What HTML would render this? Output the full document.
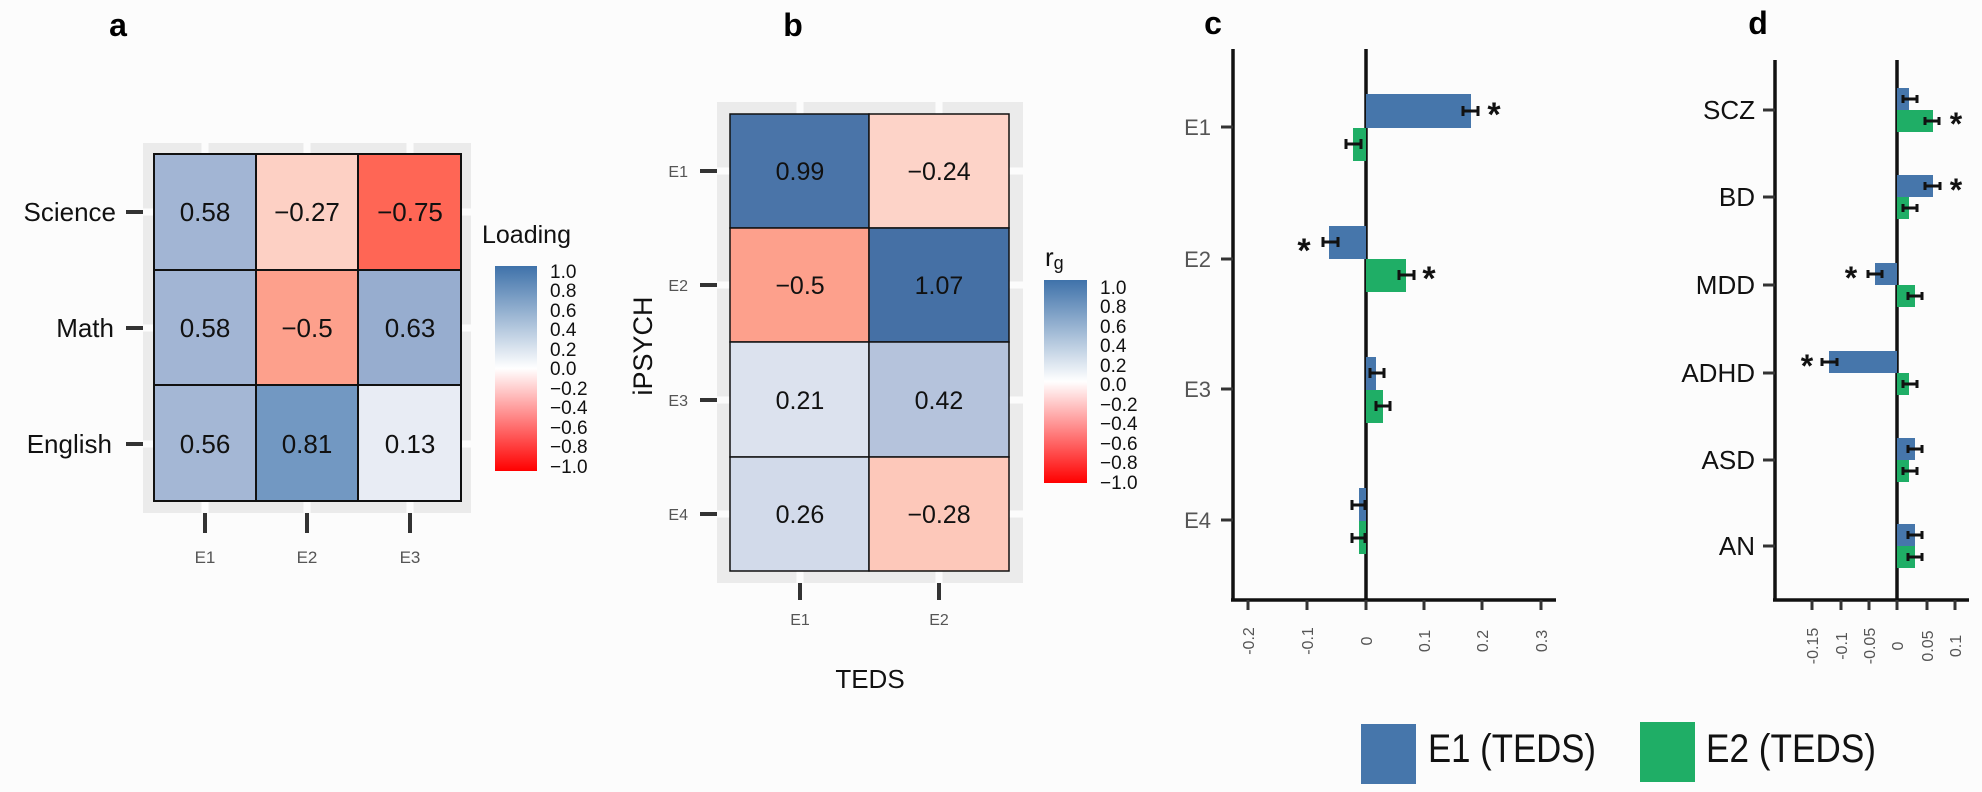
<!DOCTYPE html>
<html><head><meta charset="utf-8"><style>
html,body{margin:0;padding:0;background:#fcfcfc;}
svg{display:block;font-family:"Liberation Sans",Arial,sans-serif;}
</style></head><body>
<svg width="1982" height="792" viewBox="0 0 1982 792" xmlns="http://www.w3.org/2000/svg">
<defs>
<linearGradient id="cb" x1="0" y1="0" x2="0" y2="1">
<stop offset="0" stop-color="#3f72aa"/><stop offset="0.5" stop-color="#ffffff"/><stop offset="1" stop-color="#ff0000"/>
</linearGradient>
</defs>
<rect width="1982" height="792" fill="#fcfcfc"/>

<!-- Panel a -->
<text x="118" y="36" font-size="32" font-weight="bold" text-anchor="middle">a</text>
<rect x="143" y="143" width="328" height="370" fill="#ebebeb"/>
<g stroke="#fcfcfc" stroke-width="7">
<line x1="205" y1="143" x2="205" y2="513"/><line x1="307" y1="143" x2="307" y2="513"/><line x1="410" y1="143" x2="410" y2="513"/>
<line x1="143" y1="212" x2="471" y2="212"/><line x1="143" y1="328" x2="471" y2="328"/><line x1="143" y1="444" x2="471" y2="444"/>
</g>
<g stroke="#111" stroke-width="2">
<rect x="154" y="154" width="102" height="116" fill="#a2b5d4"/>
<rect x="256" y="154" width="102" height="116" fill="#fdd0c4"/>
<rect x="358" y="154" width="103" height="116" fill="#ff6655"/>
<rect x="154" y="270" width="102" height="115" fill="#a2b5d4"/>
<rect x="256" y="270" width="102" height="115" fill="#fda08c"/>
<rect x="358" y="270" width="103" height="115" fill="#97adcf"/>
<rect x="154" y="385" width="102" height="116" fill="#a4b7d5"/>
<rect x="256" y="385" width="102" height="116" fill="#7298c2"/>
<rect x="358" y="385" width="103" height="116" fill="#e8ecf4"/>
</g>
<g font-size="26" text-anchor="middle" fill="#111">
<text x="205" y="221">0.58</text><text x="307" y="221">−0.27</text><text x="410" y="221">−0.75</text>
<text x="205" y="337">0.58</text><text x="307" y="337">−0.5</text><text x="410" y="337">0.63</text>
<text x="205" y="453">0.56</text><text x="307" y="453">0.81</text><text x="410" y="453">0.13</text>
</g>
<g font-size="26" text-anchor="end" fill="#111">
<text x="116" y="221">Science</text><text x="114" y="337">Math</text><text x="112" y="453">English</text>
</g>
<g stroke="#333" stroke-width="4">
<line x1="126" y1="212" x2="143" y2="212"/><line x1="126" y1="328" x2="143" y2="328"/><line x1="126" y1="444" x2="143" y2="444"/>
<line x1="205" y1="513" x2="205" y2="533"/><line x1="307" y1="513" x2="307" y2="533"/><line x1="410" y1="513" x2="410" y2="533"/>
</g>
<g font-size="17" text-anchor="middle" fill="#555">
<text x="205" y="563">E1</text><text x="307" y="563">E2</text><text x="410" y="563">E3</text>
</g>
<text x="482" y="243" font-size="25" fill="#111">Loading</text>
<rect x="495" y="266" width="42" height="205" fill="url(#cb)"/>
<g font-size="19" fill="#111">
<text x="550" y="278">1.0</text><text x="550" y="297">0.8</text><text x="550" y="317">0.6</text><text x="550" y="336">0.4</text><text x="550" y="356">0.2</text><text x="550" y="375">0.0</text><text x="550" y="395">−0.2</text><text x="550" y="414">−0.4</text><text x="550" y="434">−0.6</text><text x="550" y="453">−0.8</text><text x="550" y="473">−1.0</text>
</g>

<!-- Panel b -->
<text x="793" y="36" font-size="32" font-weight="bold" text-anchor="middle">b</text>
<rect x="717" y="102" width="306" height="481" fill="#ebebeb"/>
<g stroke="#fcfcfc" stroke-width="7">
<line x1="800" y1="102" x2="800" y2="583"/><line x1="939" y1="102" x2="939" y2="583"/>
<line x1="717" y1="171" x2="1023" y2="171"/><line x1="717" y1="285" x2="1023" y2="285"/><line x1="717" y1="400" x2="1023" y2="400"/><line x1="717" y1="514" x2="1023" y2="514"/>
</g>
<g stroke="#111" stroke-width="1.5">
<rect x="730" y="114" width="139" height="114" fill="#4a74a8"/>
<rect x="869" y="114" width="140" height="114" fill="#fdd3c8"/>
<rect x="730" y="228" width="139" height="114" fill="#fda08c"/>
<rect x="869" y="228" width="140" height="114" fill="#4570a5"/>
<rect x="730" y="342" width="139" height="115" fill="#dce2ee"/>
<rect x="869" y="342" width="140" height="115" fill="#b5c3dc"/>
<rect x="730" y="457" width="139" height="114" fill="#d2daea"/>
<rect x="869" y="457" width="140" height="114" fill="#fdc8ba"/>
</g>
<g font-size="25" text-anchor="middle" fill="#111">
<text x="800" y="180">0.99</text><text x="939" y="180">−0.24</text>
<text x="800" y="294">−0.5</text><text x="939" y="294">1.07</text>
<text x="800" y="409">0.21</text><text x="939" y="409">0.42</text>
<text x="800" y="523">0.26</text><text x="939" y="523">−0.28</text>
</g>
<g font-size="16" text-anchor="end" fill="#555">
<text x="688" y="177">E1</text><text x="688" y="291">E2</text><text x="688" y="406">E3</text><text x="688" y="520">E4</text>
</g>
<g stroke="#333" stroke-width="4">
<line x1="700" y1="171" x2="717" y2="171"/><line x1="700" y1="285" x2="717" y2="285"/><line x1="700" y1="400" x2="717" y2="400"/><line x1="700" y1="514" x2="717" y2="514"/>
<line x1="800" y1="583" x2="800" y2="600"/><line x1="939" y1="583" x2="939" y2="600"/>
</g>
<g font-size="16" text-anchor="middle" fill="#555">
<text x="800" y="625">E1</text><text x="939" y="625">E2</text>
</g>
<text x="870" y="688" font-size="26" text-anchor="middle" fill="#111">TEDS</text>
<text transform="translate(652,346) rotate(-90)" font-size="27" text-anchor="middle" fill="#111">iPSYCH</text>
<text x="1045" y="266" font-size="26" fill="#111">r<tspan font-size="18" dy="3">g</tspan></text>
<rect x="1044" y="280" width="43" height="203" fill="url(#cb)"/>
<g font-size="19" fill="#111">
<text x="1100" y="294">1.0</text><text x="1100" y="313">0.8</text><text x="1100" y="333">0.6</text><text x="1100" y="352">0.4</text><text x="1100" y="372">0.2</text><text x="1100" y="391">0.0</text><text x="1100" y="411">−0.2</text><text x="1100" y="430">−0.4</text><text x="1100" y="450">−0.6</text><text x="1100" y="469">−0.8</text><text x="1100" y="489">−1.0</text>
</g>

<!-- Panel c -->
<text x="1213" y="34" font-size="32" font-weight="bold" text-anchor="middle">c</text>
<g stroke="#111" stroke-width="3.5">
<line x1="1233" y1="49" x2="1233" y2="601"/><line x1="1231" y1="600" x2="1556" y2="600"/>
<line x1="1366" y1="49" x2="1366" y2="600"/>
</g>
<g stroke="#333" stroke-width="3">
<line x1="1221" y1="127" x2="1233" y2="127"/><line x1="1221" y1="259" x2="1233" y2="259"/><line x1="1221" y1="389" x2="1233" y2="389"/><line x1="1221" y1="520" x2="1233" y2="520"/>
<line x1="1248" y1="600" x2="1248" y2="610"/><line x1="1307" y1="600" x2="1307" y2="610"/><line x1="1366" y1="600" x2="1366" y2="610"/><line x1="1424" y1="600" x2="1424" y2="610"/><line x1="1482" y1="600" x2="1482" y2="610"/><line x1="1541" y1="600" x2="1541" y2="610"/>
</g>
<g font-size="22" text-anchor="end" fill="#555">
<text x="1211" y="135">E1</text><text x="1211" y="267">E2</text><text x="1211" y="397">E3</text><text x="1211" y="528">E4</text>
</g>
<g font-size="16" text-anchor="middle" fill="#555">
<text transform="translate(1254,641) rotate(-90)">-0.2</text>
<text transform="translate(1313,641) rotate(-90)">-0.1</text>
<text transform="translate(1372,641) rotate(-90)">0</text>
<text transform="translate(1430,641) rotate(-90)">0.1</text>
<text transform="translate(1488,641) rotate(-90)">0.2</text>
<text transform="translate(1547,641) rotate(-90)">0.3</text>
</g>
<g>
<rect x="1366" y="94" width="105" height="34" fill="#4676ab"/>
<rect x="1353" y="128" width="13" height="33" fill="#1fae66"/>
<rect x="1329" y="226" width="37" height="33" fill="#4676ab"/>
<rect x="1366" y="259" width="40" height="33" fill="#1fae66"/>
<rect x="1366" y="357" width="10" height="33" fill="#4676ab"/>
<rect x="1366" y="390" width="17" height="33" fill="#1fae66"/>
<rect x="1359" y="488" width="7" height="33" fill="#4676ab"/>
<rect x="1359" y="521" width="7" height="33" fill="#1fae66"/>
</g>
<g stroke="#111" stroke-width="3">
<path d="M1463 111H1478M1463 106V116M1478 106V116"/>
<path d="M1346 144H1361M1346 139V149M1361 139V149"/>
<path d="M1323 242H1338M1323 237V247M1338 237V247"/>
<path d="M1399 275H1414M1399 270V280M1414 270V280"/>
<path d="M1370 373H1384M1370 368V378M1384 368V378"/>
<path d="M1376 406H1390M1376 401V411M1390 401V411"/>
<path d="M1352 505H1365M1352 500V510M1365 500V510"/>
<path d="M1352 538H1365M1352 533V543M1365 533V543"/>
</g>
<g font-size="34" font-weight="bold" text-anchor="middle" fill="#111">
<text x="1494" y="126">*</text><text x="1304" y="262">*</text><text x="1429" y="290">*</text>
</g>

<!-- Panel d -->
<text x="1758" y="34" font-size="32" font-weight="bold" text-anchor="middle">d</text>
<g stroke="#111" stroke-width="3.5">
<line x1="1775" y1="60" x2="1775" y2="601"/><line x1="1773" y1="600" x2="1969" y2="600"/>
<line x1="1897" y1="60" x2="1897" y2="600"/>
</g>
<g stroke="#333" stroke-width="3">
<line x1="1763" y1="110" x2="1775" y2="110"/><line x1="1763" y1="197" x2="1775" y2="197"/><line x1="1763" y1="285" x2="1775" y2="285"/><line x1="1763" y1="373" x2="1775" y2="373"/><line x1="1763" y1="460" x2="1775" y2="460"/><line x1="1763" y1="546" x2="1775" y2="546"/>
<line x1="1812" y1="600" x2="1812" y2="610"/><line x1="1841" y1="600" x2="1841" y2="610"/><line x1="1869" y1="600" x2="1869" y2="610"/><line x1="1897" y1="600" x2="1897" y2="610"/><line x1="1927" y1="600" x2="1927" y2="610"/><line x1="1955" y1="600" x2="1955" y2="610"/>
</g>
<g font-size="26" text-anchor="end" fill="#111">
<text x="1755" y="119">SCZ</text><text x="1755" y="206">BD</text><text x="1755" y="294">MDD</text><text x="1755" y="382">ADHD</text><text x="1755" y="469">ASD</text><text x="1755" y="555">AN</text>
</g>
<g font-size="16" text-anchor="middle" fill="#555">
<text transform="translate(1818,646) rotate(-90)">-0.15</text>
<text transform="translate(1847,646) rotate(-90)">-0.1</text>
<text transform="translate(1875,646) rotate(-90)">-0.05</text>
<text transform="translate(1903,646) rotate(-90)">0</text>
<text transform="translate(1933,646) rotate(-90)">0.05</text>
<text transform="translate(1961,646) rotate(-90)">0.1</text>
</g>
<g>
<rect x="1897" y="88" width="12" height="22" fill="#4676ab"/><rect x="1897" y="110" width="36" height="22" fill="#1fae66"/>
<rect x="1897" y="175" width="36" height="22" fill="#4676ab"/><rect x="1897" y="197" width="12" height="22" fill="#1fae66"/>
<rect x="1875" y="263" width="22" height="22" fill="#4676ab"/><rect x="1897" y="285" width="18" height="22" fill="#1fae66"/>
<rect x="1829" y="351" width="68" height="22" fill="#4676ab"/><rect x="1897" y="373" width="12" height="22" fill="#1fae66"/>
<rect x="1897" y="438" width="18" height="22" fill="#4676ab"/><rect x="1897" y="460" width="12" height="22" fill="#1fae66"/>
<rect x="1897" y="524" width="18" height="22" fill="#4676ab"/><rect x="1897" y="546" width="18" height="22" fill="#1fae66"/>
</g>
<g stroke="#111" stroke-width="3">
<path d="M1903 99H1917M1903 95V103M1917 95V103"/>
<path d="M1925 121H1939M1925 117V125M1939 117V125"/>
<path d="M1925 186H1940M1925 182V190M1940 182V190"/>
<path d="M1903 208H1917M1903 204V212M1917 204V212"/>
<path d="M1868 274H1882M1868 270V278M1882 270V278"/>
<path d="M1908 296H1922M1908 292V300M1922 292V300"/>
<path d="M1822 362H1837M1822 358V366M1837 358V366"/>
<path d="M1903 384H1917M1903 380V388M1917 380V388"/>
<path d="M1908 449H1922M1908 445V453M1922 445V453"/>
<path d="M1903 471H1917M1903 467V475M1917 467V475"/>
<path d="M1908 535H1922M1908 531V539M1922 531V539"/>
<path d="M1908 557H1922M1908 553V561M1922 553V561"/>
</g>
<g font-size="32" font-weight="bold" text-anchor="middle" fill="#111">
<text x="1956" y="135">*</text><text x="1956" y="201">*</text><text x="1851" y="289">*</text><text x="1807" y="377">*</text>
</g>

<!-- Legend -->
<rect x="1361" y="724" width="55" height="60" fill="#4676ab"/>
<text x="1428" y="762" font-size="40" fill="#111" textLength="168" lengthAdjust="spacingAndGlyphs">E1 (TEDS)</text>
<rect x="1640" y="722" width="55" height="60" fill="#1fae66"/>
<text x="1706" y="762" font-size="40" fill="#111" textLength="170" lengthAdjust="spacingAndGlyphs">E2 (TEDS)</text>
</svg>
</body></html>
